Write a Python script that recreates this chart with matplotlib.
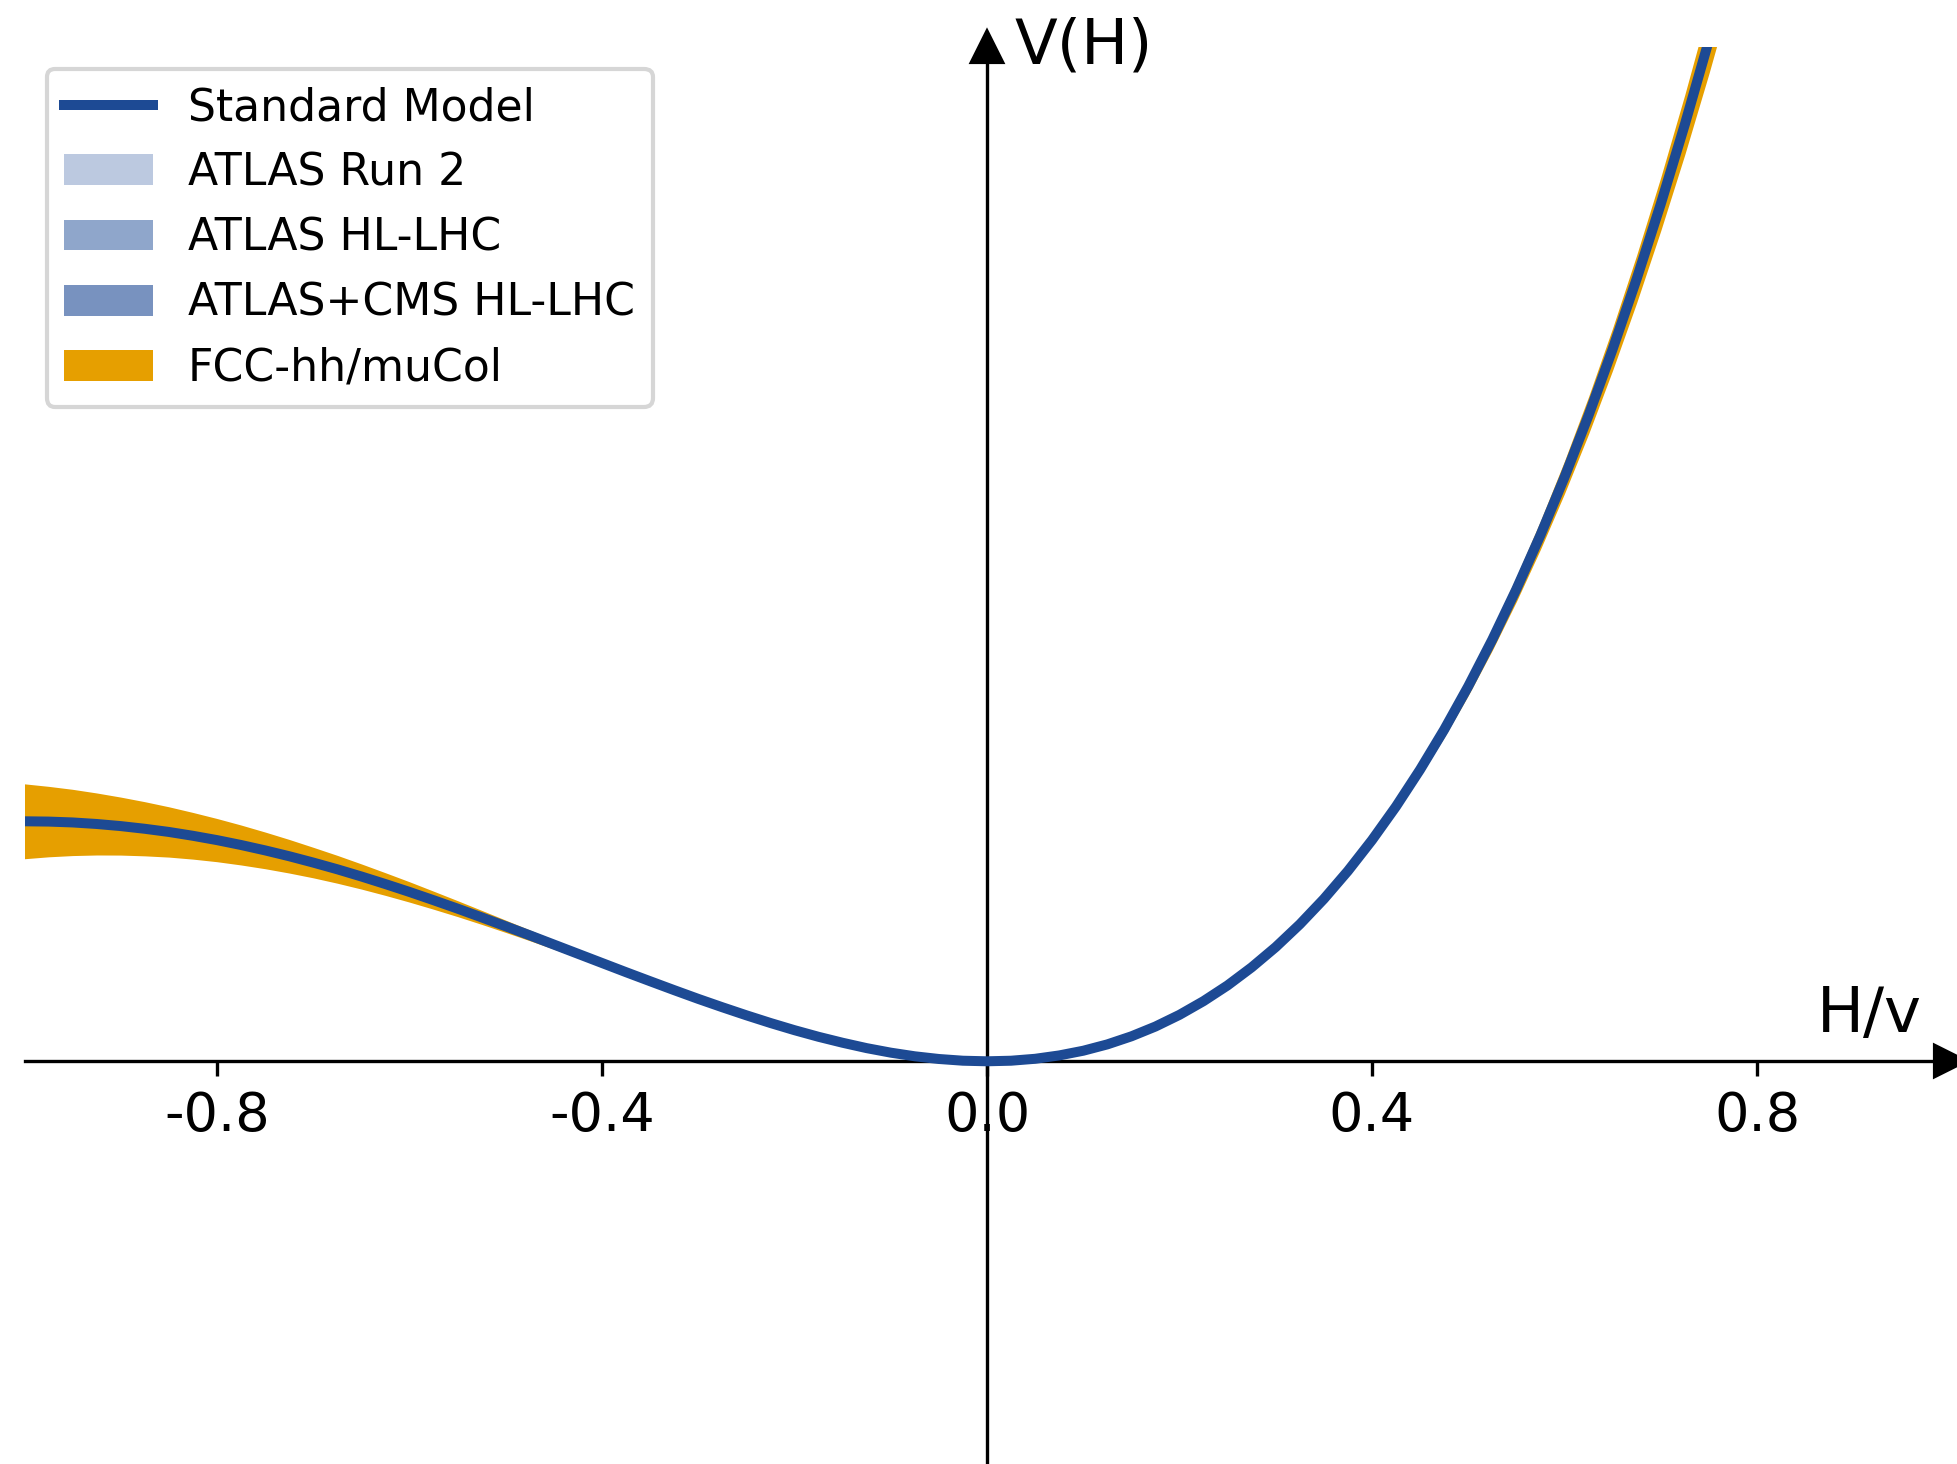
import matplotlib
matplotlib.use("Agg")
import matplotlib.pyplot as plt
from matplotlib.patches import Patch


# H/v sample points and the potential (arbitrary units)
h_vals = [-1.000, -0.975, -0.950, -0.925, -0.900, -0.875, -0.850, -0.825, -0.800, -0.775,
          -0.750, -0.725, -0.700, -0.675, -0.650, -0.625, -0.600, -0.575, -0.550, -0.525,
          -0.500, -0.475, -0.450, -0.425, -0.400, -0.375, -0.350, -0.325, -0.300, -0.275,
          -0.250, -0.225, -0.200, -0.175, -0.150, -0.125, -0.100, -0.075, -0.050, -0.025,
          0.000, 0.025, 0.050, 0.075, 0.100, 0.125, 0.150, 0.175, 0.200, 0.225,
          0.250, 0.275, 0.300, 0.325, 0.350, 0.375, 0.400, 0.425, 0.450, 0.475,
          0.500, 0.525, 0.550, 0.575, 0.600, 0.625, 0.650, 0.675, 0.700, 0.725,
          0.750, 0.775, 0.800]

sm_vals = [0.2500, 0.2497, 0.2488, 0.2472, 0.2450, 0.2422, 0.2389, 0.2349, 0.2304, 0.2253,
           0.2197, 0.2136, 0.2070, 0.2000, 0.1925, 0.1846, 0.1764, 0.1678, 0.1590, 0.1499,
           0.1406, 0.1312, 0.1216, 0.1120, 0.1024, 0.0928, 0.0834, 0.0741, 0.0650, 0.0563,
           0.0479, 0.0399, 0.0324, 0.0255, 0.0193, 0.0137, 0.0090, 0.0052, 0.0024, 0.0006,
           0.0000, 0.0006, 0.0026, 0.0061, 0.0110, 0.0176, 0.0260, 0.0362, 0.0484, 0.0627,
           0.0791, 0.0979, 0.1190, 0.1427, 0.1691, 0.1983, 0.2304, 0.2655, 0.3039, 0.3455,
           0.3906, 0.4393, 0.4918, 0.5481, 0.6084, 0.6729, 0.7418, 0.8151, 0.8930, 0.9758,
           1.0635, 1.1563, 1.2544]

fcc_lo = [0.2110, 0.2130, 0.2143, 0.2149, 0.2148, 0.2140, 0.2127, 0.2106, 0.2079, 0.2045,
          0.2006, 0.1961, 0.1911, 0.1855, 0.1794, 0.1728, 0.1658, 0.1584, 0.1507, 0.1426,
          0.1342, 0.1256, 0.1168, 0.1079, 0.0989, 0.0899, 0.0810, 0.0722, 0.0635, 0.0551,
          0.0470, 0.0392, 0.0319, 0.0252, 0.0191, 0.0136, 0.0089, 0.0052, 0.0024, 0.0006,
          0.0000, 0.0006, 0.0026, 0.0061, 0.0109, 0.0175, 0.0258, 0.0358, 0.0479, 0.0619,
          0.0780, 0.0964, 0.1171, 0.1402, 0.1660, 0.1944, 0.2257, 0.2598, 0.2971, 0.3374,
          0.3811, 0.4282, 0.4789, 0.5333, 0.5914, 0.6535, 0.7198, 0.7903, 0.8652, 0.9446,
          1.0287, 1.1177, 1.2116]

fcc_hi = [0.2890, 0.2864, 0.2833, 0.2795, 0.2752, 0.2704, 0.2651, 0.2592, 0.2529, 0.2461,
          0.2388, 0.2311, 0.2229, 0.2145, 0.2056, 0.1964, 0.1870, 0.1772, 0.1673, 0.1572,
          0.1470, 0.1368, 0.1264, 0.1161, 0.1059, 0.0957, 0.0858, 0.0760, 0.0665, 0.0575,
          0.0488, 0.0406, 0.0329, 0.0258, 0.0195, 0.0138, 0.0091, 0.0052, 0.0024, 0.0006,
          0.0000, 0.0006, 0.0026, 0.0061, 0.0111, 0.0177, 0.0262, 0.0366, 0.0489, 0.0635,
          0.0802, 0.0994, 0.1209, 0.1452, 0.1722, 0.2022, 0.2351, 0.2712, 0.3107, 0.3536,
          0.4001, 0.4504, 0.5047, 0.5629, 0.6254, 0.6923, 0.7638, 0.8399, 0.9208, 1.0070,
          1.0983, 1.1949, 1.2972]

x_ticks = [-0.8, -0.4, 0.0, 0.4, 0.8]
x_tick_labels = ["-0.8", "-0.4", "0.0", "0.4", "0.8"]

legend_labels = ["Standard Model", "ATLAS Run 2", "ATLAS HL-LHC", "ATLAS+CMS HL-LHC", "FCC-hh/muCol"]

SM_COLOR = "#1d4a94"
BAND_COLORS = ["#bcc9e0", "#8fa6cb", "#7892bf", "#e69f00"]

plt.rcParams["axes.unicode_minus"] = False

W, H, DPI = 1957, 1464, 300
fig = plt.figure(figsize=(W / DPI, H / DPI), dpi=DPI)
ax = fig.add_axes([24.5 / W, 0.0, 1925 / W, 1 - 46.5 / H])

ax.fill_between(h_vals, fcc_lo, fcc_hi, color=BAND_COLORS[3], linewidth=0, zorder=2)
ax.plot(h_vals, sm_vals, color=SM_COLOR, lw=2.4, solid_joinstyle="round", zorder=3)

ax.set_xlim(-1.0, 1.0)
ax.set_ylim(-0.4195, 1.0571)

ax.spines["left"].set_position("zero")
ax.spines["bottom"].set_position("zero")
ax.spines["right"].set_visible(False)
ax.spines["top"].set_visible(False)

ax.set_xticks(x_ticks)
ax.set_xticklabels(x_tick_labels, fontsize=13)
ax.set_yticks([])

# arrow heads on the axes
ax.plot(1, 0, ">k", markersize=7, transform=ax.get_yaxis_transform(), clip_on=False)
ax.plot(0, 1, "^k", markersize=7, transform=ax.get_xaxis_transform(), clip_on=False)

fig.text(1922 / W, 1 - 1031.7 / H, "H/v", ha="right", va="baseline", fontsize=15)
fig.text(1015 / W, 1 - 63 / H, "V(H)", ha="left", va="baseline", fontsize=15)

handles = [plt.Line2D([], [], color=SM_COLOR, lw=2.4)]
handles += [Patch(facecolor=c, edgecolor="none") for c in BAND_COLORS]
ax.legend(handles, legend_labels, loc="upper left", fontsize=10.6)

fig.savefig("out.png", dpi=DPI)
